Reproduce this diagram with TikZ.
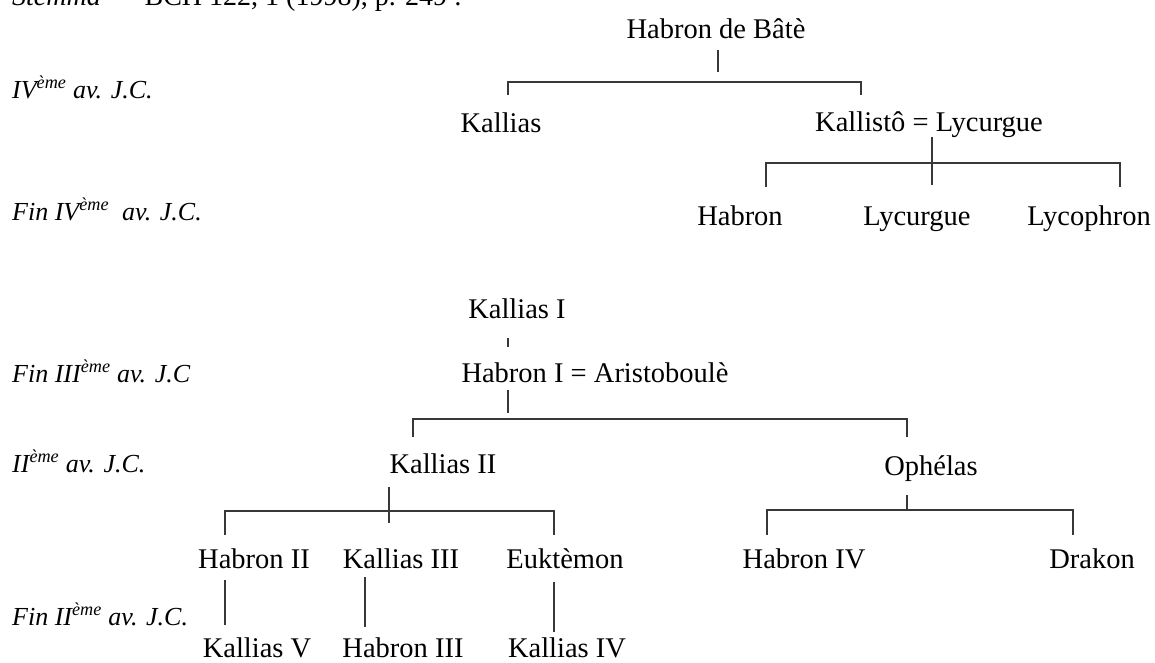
\documentclass[tikz,border=0pt]{standalone}
\usepackage{fontspec}
\setmainfont{Liberation Serif}
\begin{document}
\begin{tikzpicture}[x=1pt,y=-1pt,
  nm/.style={anchor=base,inner sep=0pt,font=\fontsize{28.5}{34}\selectfont},
  lab/.style={anchor=base west,inner sep=0pt,font=\fontsize{26}{31}\selectfont\itshape},
  ln/.style={line width=1.3pt,draw=black!78}]
\useasboundingbox (0,0) rectangle (1155,662);
\clip (0,0) rectangle (1155,662);
\fill[white] (0,0) rectangle (1155,662);

% header (cut at the top)
\node[anchor=base west,inner sep=0pt,font=\fontsize{28}{34}\selectfont] (head) at (12,5)
  {\textit{Stemma}\hspace{14pt}=\hspace{14pt}BCH 122, 1 (1998), p. 249 :};

% period labels
\node[lab] (l1) at (12,98)  {IV\textsuperscript{ème} av. J.C.};
\node[lab] (l2) at (12,220) {Fin IV\textsuperscript{ème}\ \ av. J.C.};
\node[lab] (l3) at (12,382) {Fin III\textsuperscript{ème} av. J.C};
\node[lab] (l4) at (12,472) {II\textsuperscript{ème} av. J.C.};
\node[lab] (l5) at (12,625) {Fin II\textsuperscript{ème} av. J.C.};

% first tree
\node[nm] (hdb) at (716,38)  {Habron de Bâtè};
\node[nm] (kal) at (501,132) {Kallias};
\node[nm] (kly) at (929,131) {Kallistô = Lycurgue};
\node[nm] (hab) at (740,225) {Habron};
\node[nm] (lyc) at (917,225) {Lycurgue};
\node[nm] (lyp) at (1089,225) {Lycophron};

\coordinate (a1) at (718,50);  \coordinate (a2) at (718,72);
\coordinate (b1) at (508,95);  \coordinate (b2) at (861,95);
\coordinate (c0) at (932,137); \coordinate (c4) at (932,185);
\coordinate (c1) at (766,187); \coordinate (c3) at (1120,187);
\draw[ln] (a1) -- (a2);
\draw[ln] (b1) -- ++(0,-13) -| (b2);
\draw[ln] (c0) -- (c4);
\draw[ln] (c1) -- ++(0,-24) -| (c3);

% second tree
\node[nm] (k1)  at (517,318) {Kallias I};
\node[nm] (h1)  at (595,382) {Habron I = Aristoboulè};
\node[nm] (k2)  at (443,473) {Kallias II};
\node[nm] (oph) at (931,475) {Ophélas};
\node[nm] (h2)  at (254,568) {Habron II};
\node[nm] (k3)  at (401,568) {Kallias III};
\node[nm] (euk) at (565,568) {Euktèmon};
\node[nm] (h4)  at (804,568) {Habron IV};
\node[nm] (dra) at (1092,568) {Drakon};
\node[nm] (k5)  at (257,657) {Kallias V};
\node[nm] (h3)  at (403,657) {Habron III};
\node[nm] (k4)  at (567,657) {Kallias IV};

\coordinate (d0) at (508,338); \coordinate (d00) at (508,347);
\coordinate (d5) at (508,390); \coordinate (d6) at (508,413);
\coordinate (d1) at (413,437); \coordinate (d2) at (907,437);
\coordinate (e0) at (389,487); \coordinate (e00) at (389,523);
\coordinate (e1) at (225,535); \coordinate (e2) at (554,535);
\coordinate (f0) at (907,495); \coordinate (f00) at (907,510);
\coordinate (f1) at (767,535); \coordinate (f2) at (1073,535);
\coordinate (g1) at (225,580); \coordinate (g2) at (225,625);
\coordinate (g3) at (365,577); \coordinate (g4) at (365,627);
\coordinate (g5) at (554,582); \coordinate (g6) at (554,632);

\draw[ln] (d0) -- (d00);
\draw[ln] (d5) -- (d6);
\draw[ln] (d1) -- ++(0,-18) -| (d2);
\draw[ln] (e0) -- (e00);
\draw[ln] (e1) -- ++(0,-24) -| (e2);
\draw[ln] (f0) -- (f00);
\draw[ln] (f1) -- ++(0,-25) -| (f2);
\draw[ln] (g1) -- (g2);
\draw[ln] (g3) -- (g4);
\draw[ln] (g5) -- (g6);
\end{tikzpicture}
\end{document}
